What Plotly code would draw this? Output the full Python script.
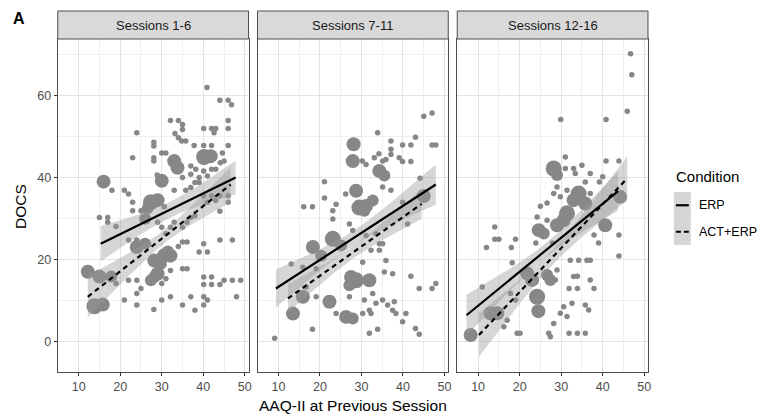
import numpy as np
import plotly.graph_objects as go

W, H = 778, 418

panel_titles = ["Sessions 1-6", "Sessions 7-11", "Sessions 12-16"]
x_ticks = [10, 20, 30, 40, 50]
x_minor = [5, 15, 25, 35, 45]
y_ticks = [0, 20, 40, 60]
y_minor = [10, 30, 50, 70]
conditions = ["ERP", "ACT+ERP"]

# ---- individual observations (AAQ-II previous session, DOCS) ----
s1_x = [40.9, 44.0, 46.0, 46.8, 32.1, 34.0, 35.0, 46.0, 24.0, 33.2, 34.0, 35.0, 40.1, 42.0, 42.6, 43.0,
        46.0, 28.1, 28.1, 34.8, 35.8, 37.8, 40.1, 42.0, 46.0, 23.0, 28.1, 28.1, 30.0, 31.0, 44.6, 45.0,
        37.0, 38.2, 40.1, 42.0, 43.0, 44.1, 35.0, 37.0, 38.0, 39.0, 41.0, 28.9, 18.0, 21.0, 22.0, 23.0,
        25.0, 23.0, 33.0, 35.8, 37.0, 39.0, 30.6, 40.1, 41.0, 42.0, 43.0, 44.0, 46.0, 44.0, 46.0, 15.0,
        17.0, 17.0, 19.0, 29.0, 30.0, 31.0, 32.1, 33.0, 35.0, 36.1, 37.0, 38.0, 22.0, 24.0, 34.0, 35.0,
        36.1, 39.0, 41.0, 44.0, 47.0, 40.1, 31.0, 32.1, 30.0, 35.0, 36.1, 18.0, 19.0, 22.0, 24.0, 25.0,
        24.0, 21.0, 24.0, 28.1, 30.0, 32.1, 35.0, 37.0, 38.0, 40.1, 40.1, 41.0, 40.1, 42.0, 40.1, 42.0,
        44.0, 45.0, 47.0, 49.0, 48.0]
s1_y = [61.9, 58.8, 58.8, 57.7, 53.9, 53.9, 52.9, 53.9, 50.9, 50.7, 49.7, 51.7, 51.9, 51.9, 50.9, 51.9,
        51.9, 48.6, 47.7, 48.9, 48.9, 47.8, 47.8, 47.8, 47.8, 44.8, 44.8, 44.0, 46.0, 46.0, 46.0, 44.0,
        42.8, 42.0, 41.6, 42.0, 42.0, 43.6, 40.0, 40.8, 38.8, 40.0, 40.4, 40.6, 36.9, 36.9, 36.0, 34.0,
        31.9, 31.9, 36.9, 36.9, 37.6, 38.8, 32.9, 35.6, 34.0, 35.6, 34.4, 35.6, 35.6, 31.8, 34.0, 30.3,
        30.3, 29.1, 28.1, 29.1, 27.9, 26.3, 27.9, 29.1, 27.9, 29.1, 30.3, 30.7, 24.8, 24.8, 23.2, 24.3,
        24.3, 21.9, 21.9, 24.8, 24.8, 23.9, 15.4, 17.4, 14.2, 17.8, 17.8, 16.6, 14.2, 15.0, 15.0, 13.0,
        11.8, 10.2, 9.0, 7.9, 10.2, 11.0, 9.0, 11.0, 7.7, 11.0, 9.0, 10.2, 15.8, 15.8, 14.0, 14.0,
        14.0, 15.0, 15.0, 15.0, 11.0]

s2_x = [45.0, 47.0, 33.9, 37.1, 39.9, 41.9, 43.0, 47.0, 47.9, 30.2, 31.1, 33.1, 34.2, 35.1, 35.9, 37.1,
        37.1, 39.1, 39.9, 41.9, 44.1, 21.1, 21.1, 26.2, 23.9, 23.1, 23.1, 35.1, 37.1, 16.1, 18.2, 39.9,
        27.1, 27.9, 41.1, 31.1, 33.5, 34.3, 34.3, 35.1, 13.1, 15.9, 19.1, 30.3, 32.3, 35.9, 35.5, 37.5,
        41.9, 43.9, 47.0, 47.9, 16.7, 19.1, 27.1, 30.7, 31.9, 32.7, 33.5, 35.1, 36.3, 37.5, 37.9, 23.9,
        30.3, 32.3, 38.3, 40.7, 39.9, 18.2, 9.1, 31.9, 33.9, 43.0, 43.9]
s2_y = [54.9, 55.7, 50.9, 48.9, 47.9, 47.9, 49.8, 47.9, 47.9, 44.0, 43.2, 44.8, 45.8, 44.0, 44.4, 46.9,
        45.6, 44.8, 43.9, 43.9, 39.8, 39.0, 35.0, 36.0, 33.5, 31.9, 29.9, 37.7, 36.9, 32.9, 32.9, 34.0,
        28.7, 27.1, 28.7, 25.9, 26.3, 23.9, 22.3, 23.9, 19.0, 18.2, 17.8, 19.4, 22.3, 19.8, 17.0, 16.6,
        16.0, 13.0, 13.0, 14.2, 13.4, 11.0, 11.0, 10.2, 7.7, 11.8, 9.4, 10.2, 9.0, 7.7, 9.8, 6.9,
        6.9, 6.9, 6.9, 6.9, 4.9, 3.1, 0.9, 2.1, 3.1, 3.3, 1.9]

s3_x = [46.7, 47.0, 45.9, 29.9, 40.8, 31.0, 40.8, 43.9, 31.0, 33.0, 33.4, 35.0, 37.0, 40.0, 39.2, 35.8,
        29.0, 28.2, 31.4, 29.8, 26.6, 25.0, 37.0, 24.2, 26.6, 14.0, 14.0, 15.0, 12.0, 19.0, 18.0, 23.9,
        27.9, 37.9, 39.0, 43.9, 43.9, 18.2, 32.2, 34.2, 36.2, 37.0, 33.0, 33.9, 33.9, 31.9, 37.0, 37.9,
        29.0, 28.6, 11.0, 17.8, 19.0, 30.6, 32.6, 29.8, 35.8, 36.6, 19.4, 20.1, 27.0, 27.4, 31.9, 33.9,
        35.8, 17.0, 16.2, 28.2, 31.4]
s3_y = [70.1, 65.0, 56.1, 54.1, 54.1, 45.0, 44.0, 44.0, 42.2, 42.2, 41.0, 43.0, 41.0, 40.2, 38.9, 38.9,
        37.7, 36.1, 36.9, 35.3, 33.8, 33.0, 36.1, 30.4, 29.6, 28.0, 25.0, 25.0, 23.0, 25.0, 23.0, 24.1,
        24.1, 26.0, 24.1, 26.0, 20.9, 19.3, 19.9, 19.9, 19.9, 19.9, 15.9, 16.0, 13.0, 13.0, 15.1, 13.0,
        17.5, 15.1, 13.4, 11.8, 10.2, 8.6, 9.4, 7.0, 9.0, 7.8, 2.1, 2.1, 2.1, 1.3, 2.1, 2.1,
        2.1, 5.3, 3.7, 4.5, 6.2]

# ---- aggregated observations drawn as larger markers (x, y, marker diameter) ----
b1_x = [12.2, 15.0, 13.8, 15.8, 17.8, 16.0, 30.0, 27.4, 29.0, 26.6, 33.0, 33.8, 40.2, 41.8, 26.0,
        24.0, 26.0, 32.1, 28.2, 29.8, 29.0, 28.2, 27.4, 30.6, 31.5]
b1_y = [17.1, 15.9, 8.7, 9.1, 15.9, 39.0, 39.2, 34.0, 34.5, 32.5, 44.0, 42.4, 45.0, 45.2, 30.0,
        23.1, 23.9, 21.0, 19.8, 19.0, 16.6, 15.8, 15.0, 21.1, 22.0]
b1_s = [14, 14, 16, 14, 12, 14, 14, 16, 14, 12, 14, 14, 16, 14, 12,
        14, 12, 14, 14, 12, 14, 12, 12, 14, 12]

b2_x = [28.1, 27.9, 34.3, 35.5, 28.7, 29.5, 31.1, 32.7, 30.7, 23.1, 18.3, 20.3, 25.1, 27.5, 28.7,
        31.9, 27.1, 13.5, 15.9, 22.3, 26.3, 27.9, 45.0]
b2_y = [48.1, 44.0, 41.6, 40.5, 36.8, 32.7, 33.1, 34.4, 31.9, 25.1, 23.1, 21.0, 23.5, 15.8, 15.0,
        15.0, 13.8, 6.9, 11.0, 9.8, 6.1, 5.7, 35.5]
b2_s = [14, 14, 14, 12, 14, 16, 14, 12, 12, 16, 14, 12, 12, 14, 16,
        14, 12, 14, 14, 14, 14, 12, 14]

b3_x = [28.2, 29.0, 34.2, 35.8, 33.0, 44.2, 31.4, 30.6, 29.0, 40.6, 24.6, 25.8, 21.8, 23.0, 24.2,
        26.6, 27.4, 13.0, 14.6, 8.2, 24.5]
b3_y = [42.2, 40.6, 36.1, 33.7, 34.5, 35.3, 31.3, 29.6, 28.4, 28.4, 27.2, 26.4, 16.7, 15.1, 11.0,
        16.3, 15.1, 7.0, 7.0, 1.7, 7.5]
b3_s = [16, 12, 16, 14, 14, 14, 16, 14, 14, 14, 14, 12, 14, 14, 16,
        12, 12, 14, 14, 14, 14]

small_x = [s1_x, s2_x, s3_x]
small_y = [s1_y, s2_y, s3_y]
big_x = [b1_x, b2_x, b3_x]
big_y = [b1_y, b2_y, b3_y]
big_s = [b1_s, b2_s, b3_s]

# ---- linear fits per panel and condition: x start/end, fitted y at ends,
#      centre of x, half-width of 95% band at centre, growth of band away from centre ----
fit_x0 = {"ERP": [15.3, 9.4, 7.2], "ACT+ERP": [12.2, 12.3, 10.2]}
fit_x1 = {"ERP": [47.8, 47.9, 43.7], "ACT+ERP": [46.6, 44.5, 45.9]}
fit_y0 = {"ERP": [23.9, 13.0, 6.5], "ACT+ERP": [11.0, 10.6, 1.7]}
fit_y1 = {"ERP": [40.0, 38.3, 36.7], "ACT+ERP": [38.3, 33.6, 39.8]}
fit_xm = {"ERP": [32.0, 28.0, 26.0], "ACT+ERP": [31.0, 28.0, 28.0]}
fit_h0 = {"ERP": [1.9, 1.8, 1.7], "ACT+ERP": [1.6, 1.5, 1.8]}
fit_k = {"ERP": [0.231, 0.228, 0.25], "ACT+ERP": [0.252, 0.20, 0.28]}

# ---- layout geometry (pixels) ----
panel_left = [58.0, 258.5, 459.0]
panel_w = 191.5
plot_top, plot_bot = 39.0, 372.0
strip_top = 11.0
x_range = [4.97, 50.9]
y_range = [-7.3, 73.7]

FONT = "Liberation Sans, Arial, Helvetica, sans-serif"
PT_COLOR = "rgb(135,135,135)"
BAND = "rgba(153,153,153,0.4)"
BORDER = "#4d4d4d"


def px(x):
    return x / W


def py(y):
    return 1 - y / H


fig = go.Figure()

for i in range(3):
    xa = "x" if i == 0 else f"x{i + 1}"
    ya = "y" if i == 0 else f"y{i + 1}"

    fig.add_trace(go.Scatter(x=small_x[i], y=small_y[i], mode="markers", xaxis=xa, yaxis=ya,
                             marker=dict(size=5.5, color=PT_COLOR, opacity=1, line=dict(width=0)),
                             showlegend=False, hoverinfo="skip"))
    fig.add_trace(go.Scatter(x=big_x[i], y=big_y[i], mode="markers", xaxis=xa, yaxis=ya,
                             marker=dict(size=big_s[i], color=PT_COLOR, opacity=1, line=dict(width=0)),
                             showlegend=False, hoverinfo="skip"))

    for cond in conditions:
        x0, x1 = fit_x0[cond][i], fit_x1[cond][i]
        y0, y1 = fit_y0[cond][i], fit_y1[cond][i]
        slope = (y1 - y0) / (x1 - x0)
        xs = np.linspace(x0, x1, 60)
        fit = y0 + slope * (xs - x0)
        half = np.sqrt(fit_h0[cond][i] ** 2 + (fit_k[cond][i] * (xs - fit_xm[cond][i])) ** 2)
        fig.add_trace(go.Scatter(x=np.concatenate([xs, xs[::-1]]),
                                 y=np.concatenate([fit + half, (fit - half)[::-1]]),
                                 fill="toself", fillcolor=BAND, line=dict(width=0),
                                 mode="lines", xaxis=xa, yaxis=ya,
                                 showlegend=False, hoverinfo="skip"))
    for cond in conditions:
        fig.add_trace(go.Scatter(x=[fit_x0[cond][i], fit_x1[cond][i]],
                                 y=[fit_y0[cond][i], fit_y1[cond][i]],
                                 mode="lines", xaxis=xa, yaxis=ya,
                                 line=dict(color="black", width=2.2,
                                           dash="solid" if cond == "ERP" else "5px,4px"),
                                 showlegend=False, hoverinfo="skip"))

layout = dict(
    width=W, height=H, margin=dict(l=0, r=0, t=0, b=0),
    paper_bgcolor="white", plot_bgcolor="white",
    font=dict(family=FONT, color="#4d4d4d"),
    showlegend=False,
)

shapes = []
annotations = []
for i in range(3):
    left = panel_left[i]
    xkey = "xaxis" if i == 0 else f"xaxis{i + 1}"
    ykey = "yaxis" if i == 0 else f"yaxis{i + 1}"
    yanchor_name = "y" if i == 0 else f"y{i + 1}"
    xanchor_name = "x" if i == 0 else f"x{i + 1}"
    layout[xkey] = dict(
        domain=[px(left), px(left + panel_w)], anchor=yanchor_name, range=x_range,
        tickmode="array", tickvals=x_ticks, ticktext=[str(v) for v in x_ticks],
        ticks="outside", ticklen=3, tickcolor="#333333", tickwidth=1,
        tickfont=dict(size=12.5, color="#4d4d4d", family=FONT),
        showgrid=True, gridcolor="#e4e4e4", gridwidth=1,
        minor=dict(tickvals=x_minor, showgrid=True, gridcolor="#f0f0f0", gridwidth=0.6, ticks=""),
        showline=True, mirror=True, linecolor=BORDER, linewidth=1, zeroline=False,
    )
    layout[ykey] = dict(
        domain=[py(plot_bot), py(plot_top)], anchor=xanchor_name, range=y_range,
        tickmode="array", tickvals=y_ticks, ticktext=[str(v) for v in y_ticks],
        ticks="outside" if i == 0 else "", ticklen=3, tickcolor="#333333", tickwidth=1,
        showticklabels=(i == 0),
        tickfont=dict(size=12.5, color="#4d4d4d", family=FONT),
        showgrid=True, gridcolor="#e4e4e4", gridwidth=1,
        minor=dict(tickvals=y_minor, showgrid=True, gridcolor="#f0f0f0", gridwidth=0.6, ticks=""),
        showline=True, mirror=True, linecolor=BORDER, linewidth=1, zeroline=False,
    )
    # facet strip
    shapes.append(dict(type="rect", xref="paper", yref="paper",
                       x0=px(left), x1=px(left + panel_w), y0=py(plot_top), y1=py(strip_top),
                       fillcolor="#d9d9d9", line=dict(color=BORDER, width=1), layer="above"))
    annotations.append(dict(text=panel_titles[i], xref="paper", yref="paper",
                            x=px(left + panel_w / 2), y=py((strip_top + plot_top) / 2),
                            xanchor="center", yanchor="middle", showarrow=False,
                            font=dict(size=13, color="#1a1a1a", family=FONT)))

# axis titles and panel tag
annotations.append(dict(text="DOCS", xref="paper", yref="paper", x=px(20), y=py(206),
                        textangle=-90, xanchor="center", yanchor="middle", showarrow=False,
                        font=dict(size=15.5, color="black", family=FONT)))
annotations.append(dict(text="AAQ-II at Previous Session", xref="paper", yref="paper",
                        x=px(354), y=py(405), xanchor="center", yanchor="middle", showarrow=False,
                        font=dict(size=15.5, color="black", family=FONT)))
annotations.append(dict(text="<b>A</b>", xref="paper", yref="paper", x=px(11), y=py(18),
                        xanchor="left", yanchor="middle", showarrow=False,
                        font=dict(size=16, color="black", family=FONT)))

# legend
annotations.append(dict(text="Condition", xref="paper", yref="paper", x=px(677), y=py(176),
                        xanchor="left", yanchor="middle", showarrow=False,
                        font=dict(size=15, color="black", family=FONT)))
key_rows = [(192.0, 218.5), (218.5, 245.0)]
for (k0, k1), cond in zip(key_rows, conditions):
    mid = (k0 + k1) / 2
    shapes.append(dict(type="rect", xref="paper", yref="paper",
                       x0=px(676.5), x1=px(693.5), y0=py(k1), y1=py(k0),
                       fillcolor=BAND, line=dict(width=0)))
    shapes.append(dict(type="line", xref="paper", yref="paper",
                       x0=px(678.5), x1=px(691.5), y0=py(mid), y1=py(mid),
                       line=dict(color="black", width=2.2,
                                 dash="solid" if cond == "ERP" else "5px,3px")))
    annotations.append(dict(text=cond, xref="paper", yref="paper", x=px(700), y=py(mid),
                            xanchor="left", yanchor="middle", showarrow=False,
                            font=dict(size=12.5, color="black", family=FONT)))

layout["shapes"] = shapes
layout["annotations"] = annotations
fig.update_layout(**layout)

fig.write_html("out.html")
